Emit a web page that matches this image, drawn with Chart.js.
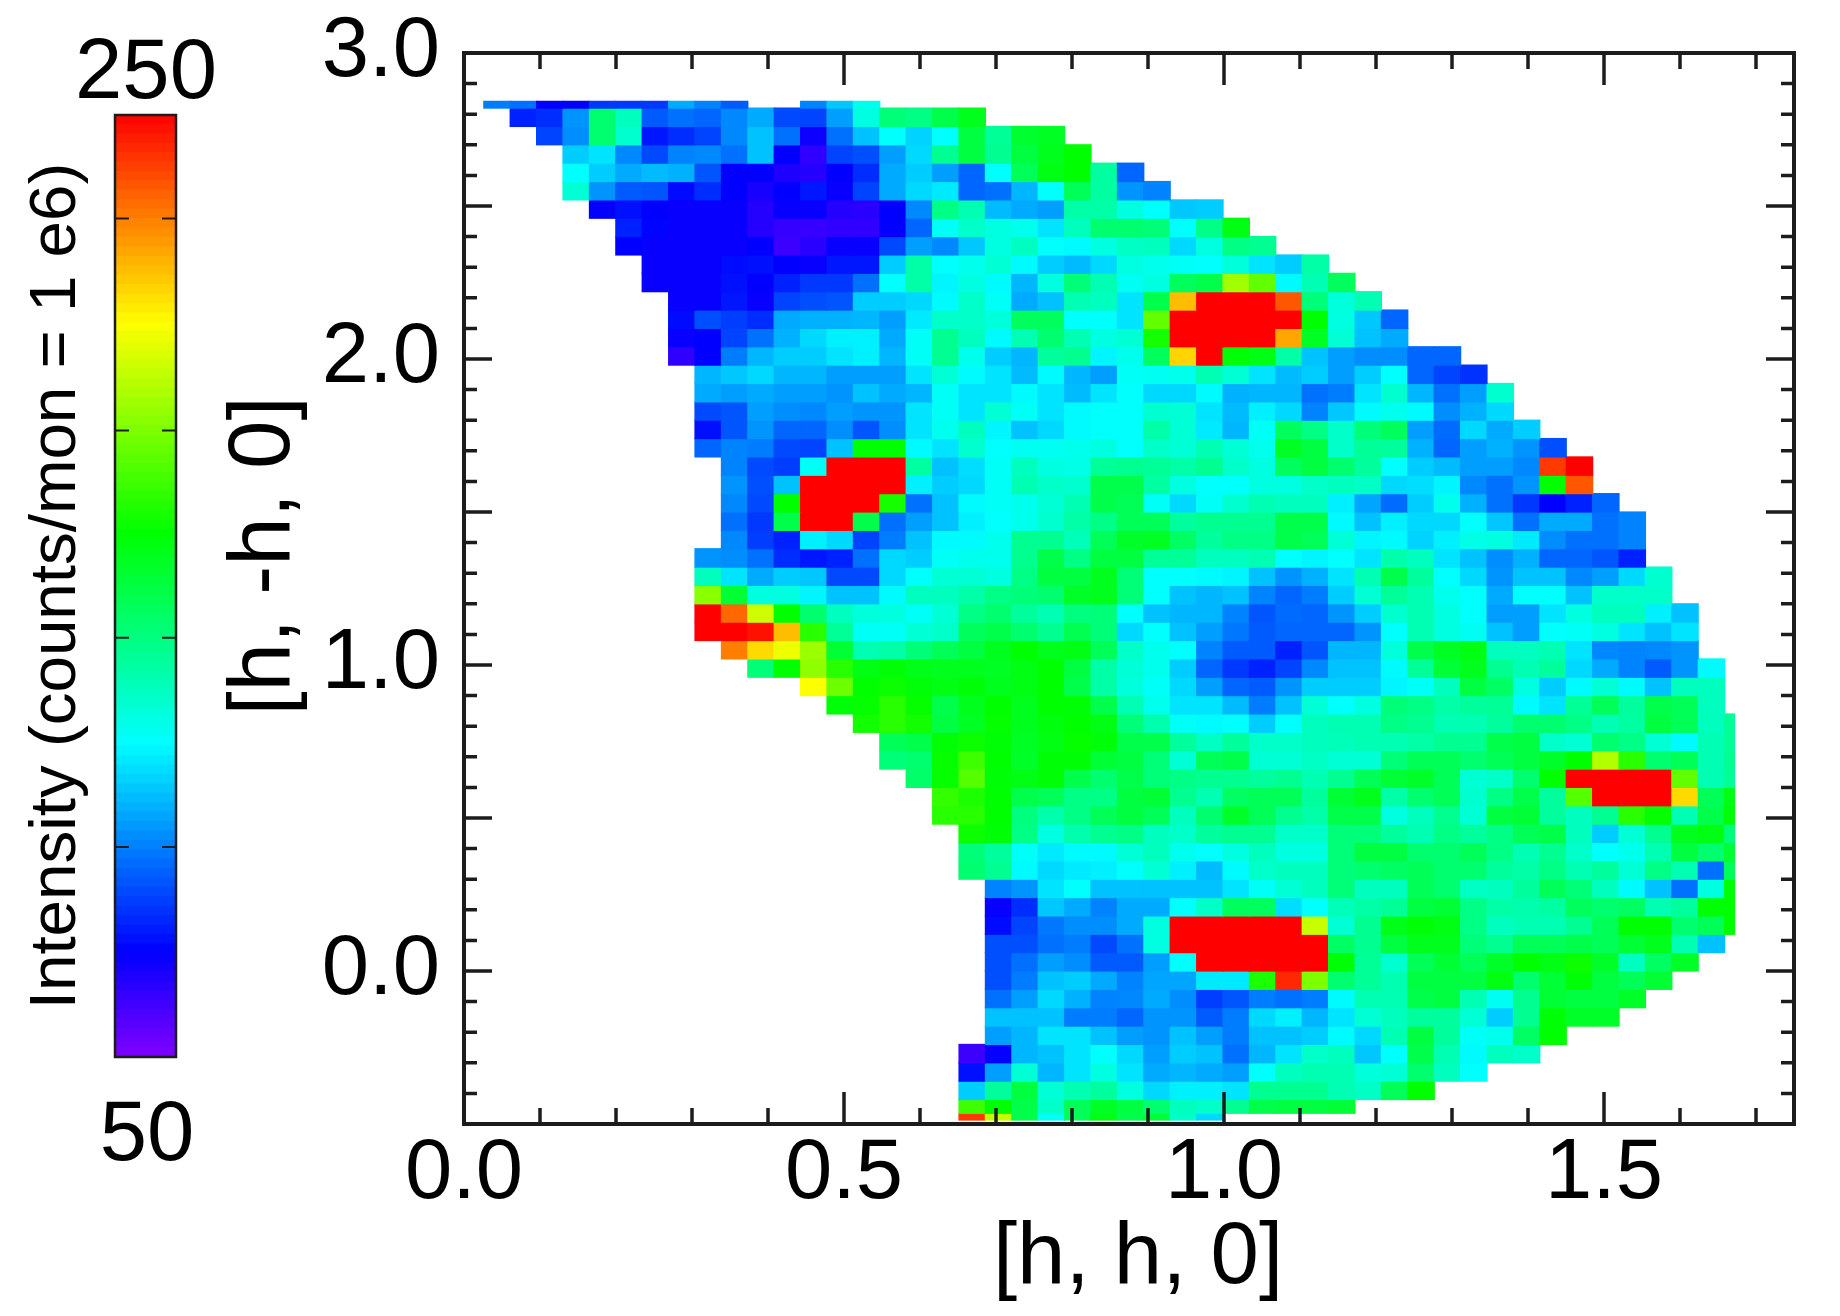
<!DOCTYPE html>
<html lang="en">
<head>
<meta charset="UTF-8">
<title>Intensity map</title>
<style>
    body { margin: 0; background: #fff; width: 1840px; height: 1316px; overflow: hidden; position: relative; }
    canvas { position: absolute; top: 0; }
    #barCanvas { left: 0; }
    #mapCanvas { left: 190px; }
</style>
</head>
<body>
<canvas id="barCanvas" width="330" height="1316"></canvas>
<canvas id="mapCanvas" width="1650" height="1316"></canvas>
<script src="https://cdn.jsdelivr.net/npm/chart.js"></script>
<script>
// column centres along [h, h, 0]
const hValues = [0.0434, 0.0781, 0.1129, 0.1476, 0.1824, 0.2171, 0.2518, 0.2866, 0.3213, 0.3561,
    0.3908, 0.4255, 0.4603, 0.4950, 0.5297, 0.5645, 0.5992, 0.6340, 0.6687, 0.7034,
    0.7382, 0.7729, 0.8077, 0.8424, 0.8771, 0.9119, 0.9466, 0.9814, 1.0161, 1.0508,
    1.0856, 1.1203, 1.1550, 1.1898, 1.2245, 1.2593, 1.2940, 1.3287, 1.3635, 1.3982,
    1.4330, 1.4677, 1.5024, 1.5372, 1.5719, 1.6066, 1.6414, 1.6761];

// row edges along [h, -h, 0], top to bottom (rows are 0.06 apart, first and last two are cut short)
const rowEdges = [2.842, 2.82, 2.76, 2.70, 2.64, 2.58, 2.52, 2.46, 2.40, 2.34, 2.28, 2.22, 2.16, 2.10, 2.04, 1.98,
    1.92, 1.86, 1.80, 1.74, 1.68, 1.62, 1.56, 1.50, 1.44, 1.38, 1.32, 1.26, 1.20, 1.14, 1.08, 1.02,
    0.96, 0.90, 0.84, 0.78, 0.72, 0.66, 0.60, 0.54, 0.48, 0.42, 0.36, 0.30, 0.24, 0.18, 0.12, 0.06, 0,
    -0.06, -0.12, -0.18, -0.24, -0.30, -0.36, -0.42, -0.465, -0.487];

// index of the first filled column in each row
const rowStarts = [0, 1, 2, 3, 3, 3, 4, 5, 5, 6, 6, 7, 7, 7, 7, 8, 8, 8, 8, 8, 9, 9, 9, 9, 9, 8, 8, 8, 8, 8,
    9, 10, 12, 13, 14, 15, 15, 16, 17, 17, 18, 18, 18, 19, 19, 19, 19, 19, 19, 19, 19, 19, 18, 18, 18, 18, 18];

// intensity per row
const intensity = [
    [94, 92, 72, 72, 82, 82, 82, 102, 95, 88, null, null, 95, 107, 120],
    [78, 80, 98, 142, 128, 88, 92, 90, 96, 102, 85, 84, 100, 122, 140, 138, 148, 156],
    [84, 97, 142, 125, 76, 80, 84, 96, 106, 92, 70, 92, 106, 117, 109, 117, 150, 135, 153, 155],
    [108, 112, 96, 85, 95, 96, 92, 106, 72, 64, 84, 86, 100, 110, 136, 150, 136, 150, 156, 161],
    [117, 108, 102, 105, 103, 87, 72, 72, 67, 66, 72, 80, 102, 108, 100, 90, 117, 146, 158, 161, 133, 90],
    [124, 98, 88, 87, 74, 80, 72, 68, 72, 76, 71, 84, 102, 110, 113, 90, 92, 104, 117, 146, 133, 98, 95],
    [72, 75, 72, 71, 71, 71, 66, 71, 71, 66, 65, 72, 96, 138, 130, 105, 102, 100, 132, 132, 122, 117, 107, 108],
    [78, 73, 71, 71, 71, 66, 63, 63, 64, 64, 72, 90, 118, 126, 122, 120, 112, 128, 142, 142, 140, 117, 138, 158],
    [72, 71, 71, 71, 71, 72, 62, 65, 71, 71, 85, 100, 96, 107, 122, 128, 117, 116, 122, 127, 128, 110, 122, 138, 136],
    [71, 71, 71, 74, 75, 72, 71, 76, 76, 108, 132, 117, 120, 124, 116, 108, 105, 110, 122, 120, 118, 117, 123, 112, 108, 132],
    [71, 71, 71, 75, 72, 78, 82, 82, 92, 117, 132, 115, 122, 116, 104, 122, 140, 130, 119, 122, 145, 148, 189, 178, 116, 130, 145],
    [71, 71, 76, 71, 84, 86, 87, 108, 108, 110, 116, 126, 118, 102, 106, 130, 128, 112, 148, 217, 250, 250, 250, 235, 140, 123, 130],
    [74, 86, 83, 80, 102, 103, 103, 104, 100, 113, 126, 126, 123, 145, 145, 117, 117, 112, 178, 250, 250, 250, 250, 250, 161, 122, 107, 90],
    [71, 72, 84, 92, 103, 110, 114, 114, 102, 118, 136, 128, 116, 130, 142, 130, 122, 124, 165, 250, 250, 250, 250, 221, 155, 124, 106, 102],
    [64, 72, 94, 104, 108, 108, 112, 114, 104, 118, 136, 120, 108, 104, 134, 136, 115, 120, 145, 213, 250, 160, 158, 132, 106, 100, 97, 97, 90, 90],
    [104, 107, 110, 104, 104, 100, 100, 100, 112, 124, 116, 112, 105, 116, 104, 100, 118, 119, 120, 130, 124, 112, 105, 108, 100, 108, 117, 90, 84, 81],
    [102, 100, 102, 100, 100, 98, 106, 102, 104, 118, 112, 112, 116, 112, 105, 112, 117, 110, 110, 116, 103, 104, 104, 92, 94, 112, 125, 104, 92, 100, 125],
    [85, 87, 100, 97, 96, 100, 98, 98, 112, 118, 112, 124, 118, 112, 116, 117, 117, 125, 124, 112, 105, 114, 110, 95, 107, 116, 120, 116, 97, 103, 110],
    [75, 87, 98, 90, 90, 97, 87, 97, 112, 120, 128, 115, 106, 110, 116, 117, 117, 132, 124, 113, 104, 118, 145, 138, 126, 140, 145, 100, 91, 110, 102, 108],
    [90, 95, 94, 85, 84, 106, 161, 161, 116, 112, 125, 117, 119, 119, 120, 122, 117, 126, 124, 130, 124, 120, 155, 150, 126, 135, 134, 103, 90, 100, 103, 98, 86],
    [95, 85, 83, 118, 250, 250, 250, 133, 106, 111, 118, 128, 122, 121, 135, 136, 135, 132, 136, 126, 122, 145, 150, 142, 134, 117, 108, 105, 100, 100, 96, 240, 250],
    [98, 86, 106, 250, 250, 250, 250, 114, 108, 110, 118, 130, 126, 125, 148, 148, 133, 122, 117, 117, 122, 122, 126, 128, 127, 110, 111, 115, 96, 92, 98, 161, 235],
    [96, 85, 161, 250, 250, 250, 165, 92, 106, 116, 118, 120, 124, 130, 148, 146, 118, 110, 118, 125, 130, 128, 128, 114, 101, 91, 108, 120, 103, 92, 82, 72, 78, 90],
    [92, 82, 148, 250, 250, 148, 92, 100, 106, 114, 117, 120, 125, 132, 138, 146, 146, 134, 136, 136, 136, 148, 148, 116, 106, 114, 110, 110, 117, 107, 92, 102, 102, 92, 95],
    [96, 83, 78, 114, 110, 84, 94, 106, 116, 116, 120, 136, 136, 129, 146, 154, 155, 144, 134, 138, 138, 148, 146, 124, 115, 116, 109, 114, 121, 122, 113, 97, 92, 92, 95],
    [98, 97, 92, 80, 76, 78, 92, 110, 108, 118, 120, 120, 136, 148, 138, 150, 150, 135, 135, 128, 128, 130, 117, 115, 117, 112, 131, 128, 112, 106, 97, 103, 90, 90, 87, 78],
    [128, 112, 102, 108, 107, 85, 85, 110, 117, 124, 124, 122, 138, 150, 150, 156, 140, 117, 117, 116, 115, 106, 98, 103, 112, 130, 148, 134, 117, 110, 98, 106, 106, 96, 100, 110, 125],
    [185, 152, 122, 122, 115, 106, 106, 116, 128, 128, 132, 138, 140, 142, 154, 156, 140, 117, 106, 104, 106, 95, 90, 94, 108, 124, 135, 130, 120, 117, 102, 117, 117, 106, 126, 126, 126],
    [250, 232, 197, 161, 142, 128, 123, 122, 118, 124, 138, 142, 134, 130, 139, 140, 117, 106, 104, 104, 95, 87, 91, 90, 98, 108, 125, 130, 122, 117, 100, 100, 112, 122, 128, 128, 114, 106],
    [250, 250, 247, 217, 168, 135, 118, 118, 124, 126, 145, 148, 142, 136, 147, 140, 110, 117, 106, 100, 93, 88, 90, 90, 90, 98, 117, 130, 122, 119, 106, 100, 117, 118, 122, 112, 106, 112],
    [228, 212, 203, 188, 152, 130, 132, 140, 146, 150, 156, 161, 156, 158, 146, 126, 120, 117, 95, 88, 88, 78, 87, 104, 104, 123, 148, 155, 158, 128, 128, 130, 112, 96, 95, 96, 98],
    [140, 161, 186, 168, 158, 160, 157, 156, 156, 155, 158, 161, 150, 132, 124, 120, 108, 90, 82, 78, 84, 96, 106, 106, 116, 135, 152, 156, 136, 130, 134, 110, 102, 95, 88, 98, 116],
    [205, 180, 161, 163, 160, 158, 160, 156, 158, 161, 148, 132, 123, 118, 110, 100, 90, 88, 98, 108, 108, 108, 115, 118, 128, 150, 144, 122, 108, 116, 124, 116, 106, 128, 128],
    [160, 162, 168, 162, 148, 156, 161, 156, 161, 160, 148, 130, 120, 112, 112, 105, 94, 106, 124, 117, 122, 140, 138, 132, 134, 135, 116, 112, 135, 146, 134, 148, 146, 128],
    [164, 168, 164, 150, 155, 162, 156, 159, 161, 158, 140, 131, 118, 116, 117, 108, 117, 128, 130, 130, 138, 136, 130, 130, 134, 142, 142, 138, 130, 133, 150, 146, 128, 135],
    [146, 148, 160, 163, 160, 155, 158, 162, 160, 148, 148, 134, 127, 134, 126, 126, 128, 129, 130, 130, 132, 136, 136, 148, 150, 126, 124, 142, 138, 124, 116, 130, 135],
    [140, 142, 162, 172, 161, 154, 160, 160, 152, 150, 140, 124, 146, 148, 124, 124, 127, 124, 124, 140, 146, 146, 142, 146, 150, 154, 161, 192, 168, 142, 146, 130, 136],
    [143, 162, 176, 160, 158, 160, 148, 142, 148, 140, 138, 136, 136, 134, 136, 130, 136, 146, 152, 154, 146, 124, 126, 142, 161, 250, 250, 250, 250, 178, 130, 135],
    [170, 166, 161, 148, 146, 138, 138, 150, 152, 136, 130, 144, 146, 146, 134, 152, 156, 132, 142, 146, 125, 138, 148, 134, 176, 250, 250, 250, 212, 146, 158],
    [168, 168, 161, 139, 131, 138, 146, 150, 146, 128, 142, 154, 146, 136, 132, 148, 148, 122, 128, 136, 124, 150, 152, 134, 128, 136, 168, 162, 130, 148, 160],
    [163, 160, 138, 122, 131, 136, 138, 128, 126, 134, 136, 136, 126, 126, 140, 140, 134, 130, 138, 134, 138, 146, 148, 128, 108, 124, 136, 156, 158, 140],
    [140, 134, 118, 113, 116, 116, 124, 128, 120, 117, 122, 128, 122, 122, 140, 150, 150, 142, 142, 146, 138, 130, 136, 126, 117, 120, 130, 150, 142, 152],
    [142, 136, 116, 110, 113, 114, 117, 124, 114, 105, 116, 126, 128, 128, 140, 142, 144, 146, 142, 142, 134, 132, 138, 130, 134, 124, 138, 130, 92, 146],
    [95, 98, 112, 117, 106, 106, 106, 106, 106, 112, 118, 124, 128, 140, 128, 128, 146, 142, 127, 128, 134, 146, 140, 128, 116, 106, 92, 122, 160],
    [71, 80, 107, 102, 95, 102, 102, 117, 126, 145, 145, 111, 117, 129, 132, 135, 150, 152, 138, 132, 131, 133, 145, 142, 144, 130, 134, 161, 161],
    [74, 84, 93, 97, 97, 102, 122, 250, 250, 250, 250, 250, 196, 124, 136, 157, 160, 158, 138, 128, 130, 130, 136, 146, 161, 161, 142, 146, 161],
    [86, 86, 92, 94, 85, 92, 122, 250, 250, 250, 250, 250, 250, 144, 136, 150, 156, 156, 140, 136, 146, 146, 148, 146, 152, 156, 130, 106],
    [86, 92, 100, 97, 88, 88, 100, 117, 250, 250, 250, 250, 250, 160, 135, 125, 146, 152, 146, 154, 161, 158, 163, 154, 128, 144, 154],
    [86, 94, 106, 108, 102, 95, 101, 101, 113, 113, 166, 243, 183, 142, 135, 130, 150, 150, 150, 158, 142, 152, 160, 150, 146, 152],
    [92, 100, 110, 103, 95, 96, 102, 97, 83, 87, 94, 92, 94, 116, 130, 130, 148, 150, 130, 119, 136, 152, 150, 150, 154],
    [106, 106, 106, 94, 94, 90, 98, 98, 88, 94, 110, 114, 104, 112, 124, 128, 134, 134, 124, 108, 136, 160, 154, 154],
    [100, 104, 112, 112, 106, 100, 98, 106, 100, 94, 106, 106, 108, 116, 110, 130, 150, 134, 118, 120, 144, 161],
    [62, 71, 104, 106, 112, 117, 110, 100, 108, 106, 92, 104, 112, 126, 128, 107, 117, 148, 130, 116, 128, 126],
    [75, 100, 124, 104, 112, 122, 112, 102, 104, 102, 100, 117, 128, 130, 130, 123, 124, 142, 128, 117],
    [108, 134, 150, 124, 130, 134, 122, 110, 114, 114, 112, 136, 136, 136, 130, 127, 146, 161],
    [172, 161, 148, 126, 146, 155, 150, 142, 128, 126, 136, 148, 150, 150, 152],
    [240, 195, 148, 118, 146, 158, 148, 152, 126, 110]
];

// unlabelled ticks on the colour bar
const barTicks = [94.6, 139, 183, 228];
const barMin = 50;
const barMax = 250;

const frameColor = '#1c1c1c';
const fontFamily = '"Liberation Sans", Arial, sans-serif';

// rainbow from purple at the bottom to red at the top
function colorFor(value) {
    const hue = 270 * (1 - (value - barMin) / (barMax - barMin));
    return 'hsl(' + hue + ', 100%, 50%)';
}

// the main datasets: one per row, floating bars between the row edges
const mapDatasets = intensity.map((row, r) => {
    const points = [];
    const colors = [];
    row.forEach((value, i) => {
        if (value === null) return;
        points.push({ x: hValues[rowStarts[r] + i], y: [rowEdges[r + 1], rowEdges[r]] });
        colors.push(colorFor(value));
    });
    return {
        data: points,
        backgroundColor: colors,
        borderWidth: 0,
        inflateAmount: 0.6,
        grouped: false,
        barPercentage: 1,
        categoryPercentage: 1,
        clip: { left: 0, top: 0, right: -59, bottom: 0 } // last column is cut at h = 1.672
    };
});

// ticks point inwards on all four sides, minor every 0.1, major every 0.5
const frameTicks = {
    id: 'frameTicks',
    afterDraw(chart) {
        const { ctx, chartArea: a, scales: { x, y } } = chart;
        ctx.save();
        ctx.strokeStyle = frameColor;
        ctx.lineCap = 'butt';
        ctx.lineWidth = 3.5;
        ctx.beginPath();
        for (let i = 0; i <= 17; i++) {
            const px = x.getPixelForValue(i / 10);
            const len = i % 5 === 0 ? 32 : 16;
            ctx.moveTo(px, a.bottom); ctx.lineTo(px, a.bottom - len);
            ctx.moveTo(px, a.top); ctx.lineTo(px, a.top + len);
        }
        for (let i = -5; i <= 30; i++) {
            const py = y.getPixelForValue(i / 10);
            const len = (i + 5) % 5 === 0 ? 28 : 13;
            ctx.moveTo(a.left, py); ctx.lineTo(a.left + len, py);
            ctx.moveTo(a.right, py); ctx.lineTo(a.right - len, py);
        }
        ctx.stroke();
        ctx.lineWidth = 4;
        ctx.strokeRect(a.left, a.top, a.right - a.left, a.bottom - a.top);

        ctx.fillStyle = '#000';
        ctx.font = '87px ' + fontFamily;
        ctx.textAlign = 'center';
        ctx.textBaseline = 'middle';
        ctx.fillText('[h, h, 0]', 948, 1259);
        ctx.translate(75, 556);
        ctx.rotate(-Math.PI / 2);
        ctx.fillText('[h, -h, 0]', 0, 0);
        ctx.restore();
    }
};

new Chart(document.getElementById('mapCanvas'), {
    type: 'bar',
    data: { datasets: mapDatasets },
    options: {
        responsive: false,
        animation: false,
        devicePixelRatio: 1,
        layout: { autoPadding: false, padding: { top: 53, right: 46, bottom: 0, left: 0 } },
        plugins: { legend: { display: false }, tooltip: { enabled: false } },
        scales: {
            x: {
                type: 'linear',
                offset: false,
                min: 0,
                max: 1.75,
                afterFit(scale) { scale.height = 192; scale.paddingLeft = 0; scale.paddingRight = 0; },
                grid: { display: false, offset: false, drawTicks: false },
                border: { display: false },
                ticks: {
                    stepSize: 0.5,
                    includeBounds: false,
                    maxRotation: 0,
                    autoSkip: false,
                    padding: 0,
                    color: '#000',
                    font: { size: 85, family: fontFamily },
                    callback: v => v.toFixed(1)
                }
            },
            y: {
                type: 'linear',
                min: -0.5,
                max: 3,
                // the tick label height would otherwise push the plot top down
                afterFit(scale) { scale.width = 274; scale.paddingTop = 0; scale.paddingBottom = 0; },
                grid: { display: false, drawTicks: false },
                border: { display: false },
                ticks: {
                    stepSize: 0.5,
                    includeBounds: false,
                    autoSkip: false,
                    padding: 24,
                    color: '#000',
                    font: { size: 85, family: fontFamily },
                    callback: v => Number.isInteger(v) ? v.toFixed(1) : ''
                }
            }
        }
    },
    plugins: [frameTicks]
});

// colour bar: thin floating bars from bottom to top of the scale
const barDatasets = [];
for (let v = barMin; v < barMax; v += 2) {
    barDatasets.push({
        data: [[v, v + 2]],
        backgroundColor: colorFor(v + 1),
        borderWidth: 0,
        inflateAmount: 0.6,
        grouped: false,
        barPercentage: 1,
        categoryPercentage: 1
    });
}

const barFrame = {
    id: 'barFrame',
    afterDraw(chart) {
        const { ctx, chartArea: a, scales: { y } } = chart;
        ctx.save();
        ctx.strokeStyle = frameColor;
        ctx.lineWidth = 2;
        ctx.beginPath();
        barTicks.forEach(v => {
            const py = y.getPixelForValue(v);
            ctx.moveTo(a.left, py); ctx.lineTo(a.left + 14, py);
            ctx.moveTo(a.right, py); ctx.lineTo(a.right - 14, py);
        });
        ctx.stroke();
        ctx.lineWidth = 2.5;
        ctx.strokeRect(a.left, a.top, a.right - a.left, a.bottom - a.top);

        ctx.fillStyle = '#000';
        ctx.font = '85px ' + fontFamily;
        ctx.textAlign = 'center';
        ctx.textBaseline = 'middle';
        ctx.fillText(String(barMax), 146, 75);
        ctx.fillText(String(barMin), 147, 1137);
        ctx.restore();
    }
};

new Chart(document.getElementById('barCanvas'), {
    type: 'bar',
    data: { labels: [''], datasets: barDatasets },
    options: {
        responsive: false,
        animation: false,
        devicePixelRatio: 1,
        layout: { autoPadding: false, padding: { top: 115, right: 154, bottom: 259 } },
        plugins: { legend: { display: false }, tooltip: { enabled: false } },
        scales: {
            x: { display: false },
            y: {
                min: barMin,
                max: barMax,
                afterFit(scale) { scale.width = 115; },
                grid: { display: false, drawTicks: false },
                border: { display: false },
                ticks: { display: false },
                title: { display: true, text: 'Intensity (counts/mon = 1 e6)', color: '#000', padding: { top: 18, bottom: 0 }, font: { size: 65.5, family: fontFamily } }
            }
        }
    },
    plugins: [barFrame]
});
</script>
</body>
</html>
